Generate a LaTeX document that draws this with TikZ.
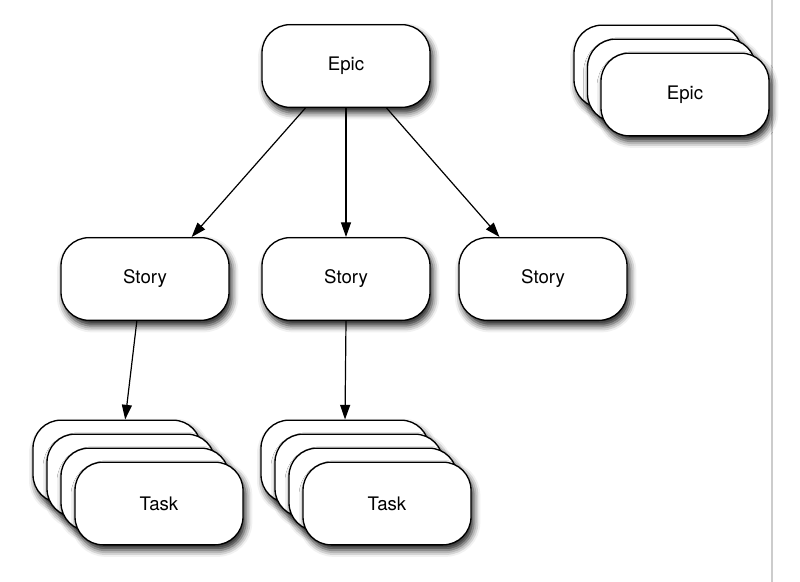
\documentclass[tikz,border=0pt]{standalone}
\usepackage{fontspec}
\setmainfont{TeX Gyre Heros}
\usetikzlibrary{positioning, shadows.blur, arrows.meta}

\tikzset{
  card/.style={draw, line width=1pt, fill=white, rounded corners=21pt,
    minimum width=126pt, minimum height=62pt, inner sep=0pt,
    font=\fontsize{14}{16}\selectfont,
    blur shadow={shadow xshift=2pt, shadow yshift=-4pt,
      shadow blur radius=5pt, shadow opacity=90}},
  arr/.style={-{Triangle[length=11pt, width=7.5pt]}, line width=0.9pt}
}

\begin{document}
\begin{tikzpicture}[x=0.75pt, y=-0.75pt]
      \useasboundingbox (0,0) rectangle (800,582);
      \draw[black!20, line width=0.9pt] (772,0) -- (772,582);
      % hierarchy
      \node[card] (epic) at (346,66) {Epic};
      \node[card] (story1) at (145,279) {Story};
      \node[card] (story2) at (346,279) {Story};
      \node[card] (story3) at (543,279) {Story};
      % stack of epics
      \foreach \i in {0,1} \node[card] (epics\i) at (658+13.5*\i,66.5+14*\i) {};
      \node[card] (epics2) at (685,94.5) {Epic};
      % stacks of tasks
      \foreach \i in {0,1,2} {
        \node[card] (taskA\i) at (117+14*\i,461.5+14*\i) {};
        \node[card] (taskB\i) at (345+14*\i,461.5+14*\i) {};
      }
      \node[card] (taskA3) at (159,503.5) {Task};
      \node[card] (taskB3) at (387,503.5) {Task};
      % arrows
      \draw[arr] (epic.226) -- (story1.42);
      \draw[arr] (epic.south) -- (story2.north);
      \draw[arr] (epic.314) -- (story3.136);
      \draw[arr] (story1.259) -- (taskA0.79);
      \draw[arr] (story2.south) -- (taskB0.north);
    \end{tikzpicture}
\end{document}
